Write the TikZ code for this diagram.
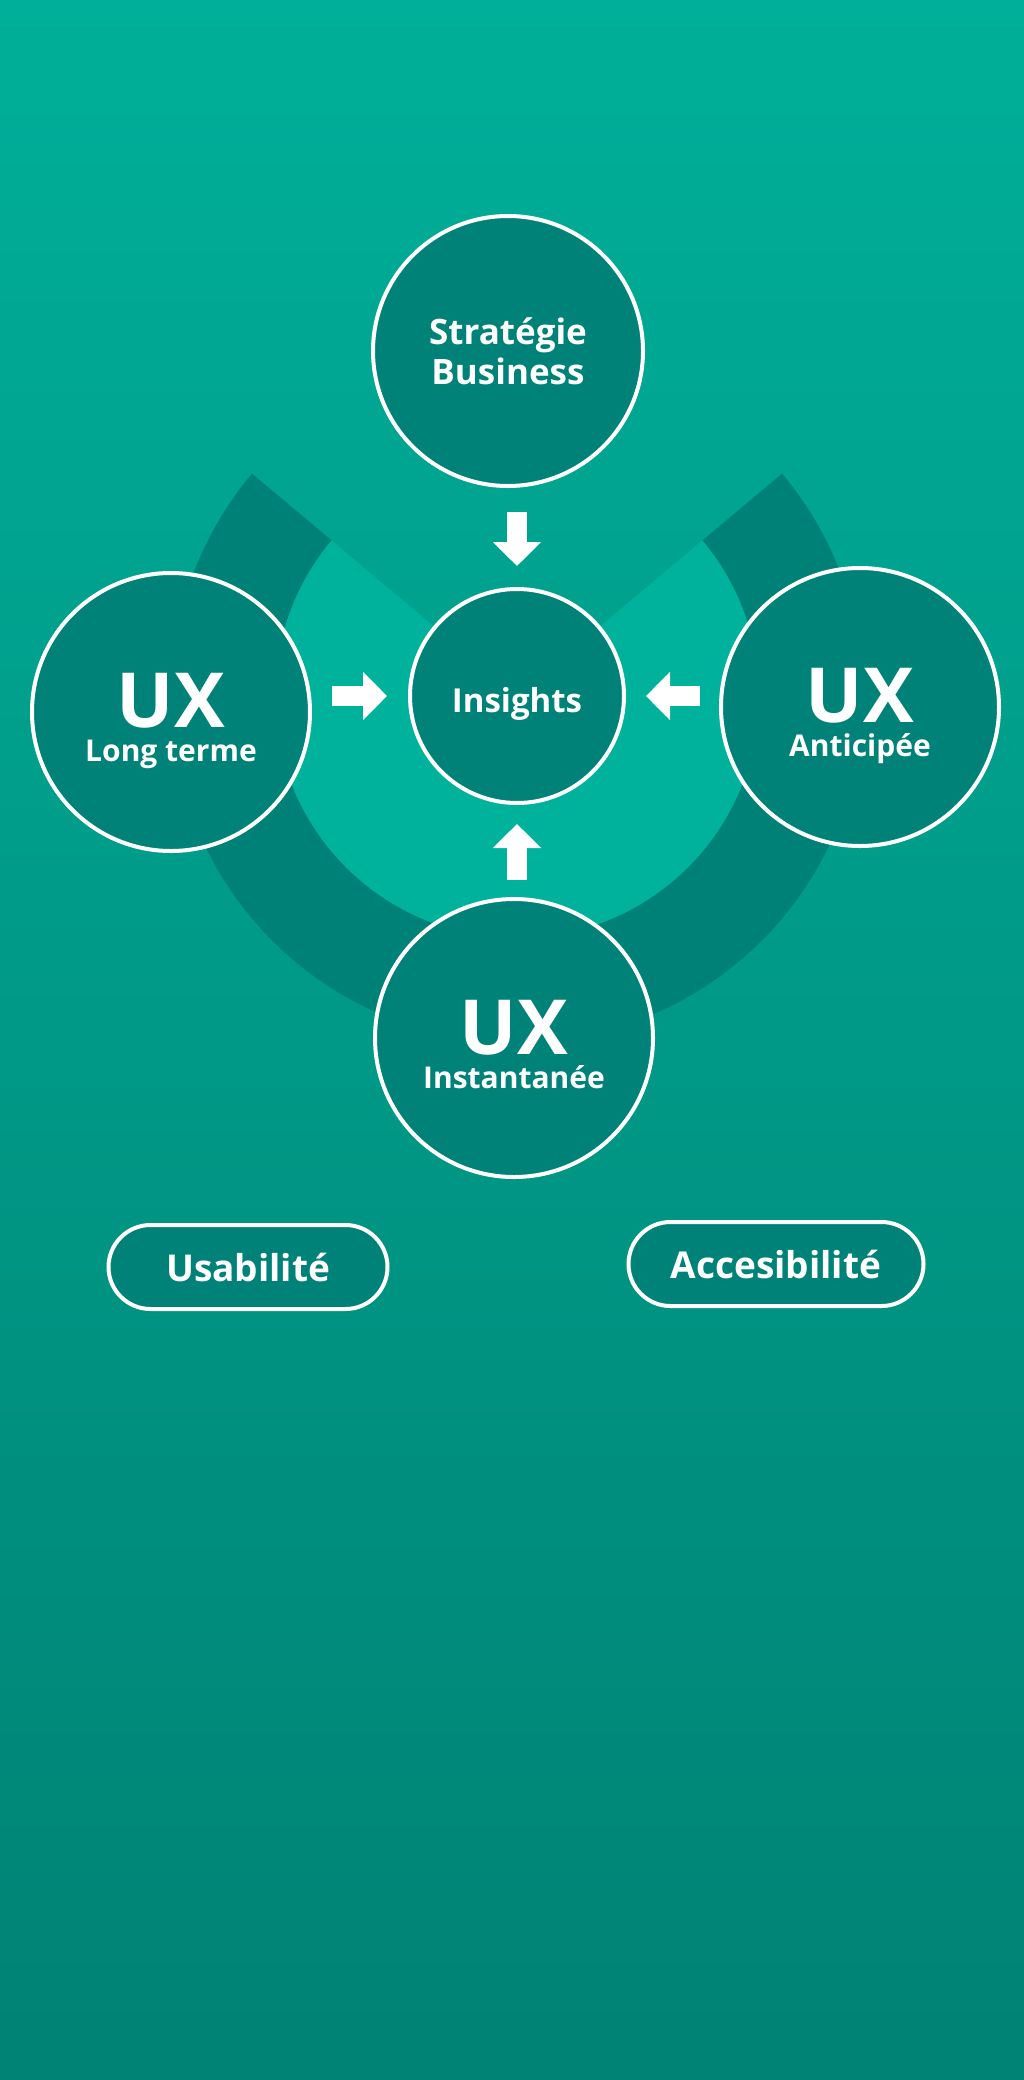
\documentclass[tikz,border=0pt]{standalone}
\usepackage{fontspec}
\setmainfont{Open Sans}
\usepackage{tikz}
\usetikzlibrary{positioning,arrows.meta,calc}
\definecolor{bgtop}{RGB}{0,175,153}
\definecolor{bgbottom}{RGB}{0,130,116}
\definecolor{tealdark}{RGB}{0,130,120}
\definecolor{tealring}{RGB}{0,129,119}
\definecolor{teallight}{RGB}{0,178,156}
\newcommand{\uxbigfont}{\fontsize{76}{76}\selectfont\bfseries}
\newcommand{\uxsmallfont}{\fontsize{30}{34}\selectfont\bfseries}
\newcommand{\labelfont}{\fontsize{35}{40}\selectfont\bfseries}
\newcommand{\coretextfont}{\fontsize{33}{38}\selectfont\bfseries}
\newcommand{\pillfont}{\fontsize{37}{42}\selectfont\bfseries}
\tikzset{
  ux-node/.style={circle, draw=white, line width=4pt, fill=tealdark, text=white,
    minimum size=278pt, inner sep=0pt, align=center, font=\uxsmallfont},
  topic-node/.style={circle, draw=white, line width=4pt, fill=tealdark, text=white,
    minimum size=270pt, inner sep=0pt, align=center, font=\labelfont},
  core-node/.style={circle, draw=white, line width=4pt, fill=tealdark, text=white,
    minimum size=214pt, inner sep=0pt, align=center, font=\coretextfont},
  pill-node/.style={rectangle, draw=white, line width=4pt, fill=tealdark, text=white,
    rounded corners=42pt, minimum height=84pt, font=\pillfont, align=center},
  block-arrow/.style={draw=white, line width=20pt, -{Triangle[width=47pt, length=24pt]}}
}

\begin{document}
\begin{tikzpicture}[x=1pt, y=1pt]
% Background
\shade[top color=bgtop, bottom color=bgbottom] (0,0) rectangle (1024,-2080);
\useasboundingbox (0,0) rectangle (1024,-2080);

% Ring behind the circles
\coordinate (hub) at (517,-696);
\fill[tealring] ($(hub)+(40:346)$) arc[start angle=40, end angle=-220, radius=346]
  -- ($(hub)+(140:242)$) arc[start angle=-220, end angle=40, radius=242] -- cycle;
\fill[teallight] (hub) -- ($(hub)+(40:242)$) arc[start angle=40, end angle=-220, radius=242] -- cycle;

% Centre
\node[core-node, text height=42pt, text depth=9pt] (insights) at (hub) {Insights};

% Circles round the centre
\node[topic-node, above=99pt of insights, xshift=-9pt] (strategie) {Stratégie\\Business};
\node[ux-node, left=96pt of insights, yshift=-16pt] (longterme) {{\uxbigfont\rule{0pt}{72pt}UX}\\Long terme};
\node[ux-node, right=93pt of insights, yshift=-11pt] (anticipee) {{\uxbigfont\rule{0pt}{72pt}UX}\\Anticipée};
\node[ux-node, below=92pt of insights, xshift=-3pt] (instantanee) {{\uxbigfont\rule{0pt}{68pt}UX}\\Instantanée};

% Pills
\node[pill-node, minimum width=279pt, below=44pt of instantanee, xshift=-266pt] (usabilite) {Usabilité};
\node[pill-node, minimum width=295pt, below=41pt of instantanee, xshift=262pt] (accesibilite) {Accesibilité};

% Arrows into the centre
\draw[block-arrow, shorten <=24pt, shorten >=21pt] (insights |- strategie.south) -- (insights.north);
\draw[block-arrow, shorten <=20pt, shorten >=21pt] (longterme.east |- insights) -- (insights.west);
\draw[block-arrow, shorten <=19pt, shorten >=20pt] (anticipee.west |- insights) -- (insights.east);
\draw[block-arrow, shorten <=17pt, shorten >=19pt] (insights |- instantanee.north) -- (insights.south);
\end{tikzpicture}
\end{document}
